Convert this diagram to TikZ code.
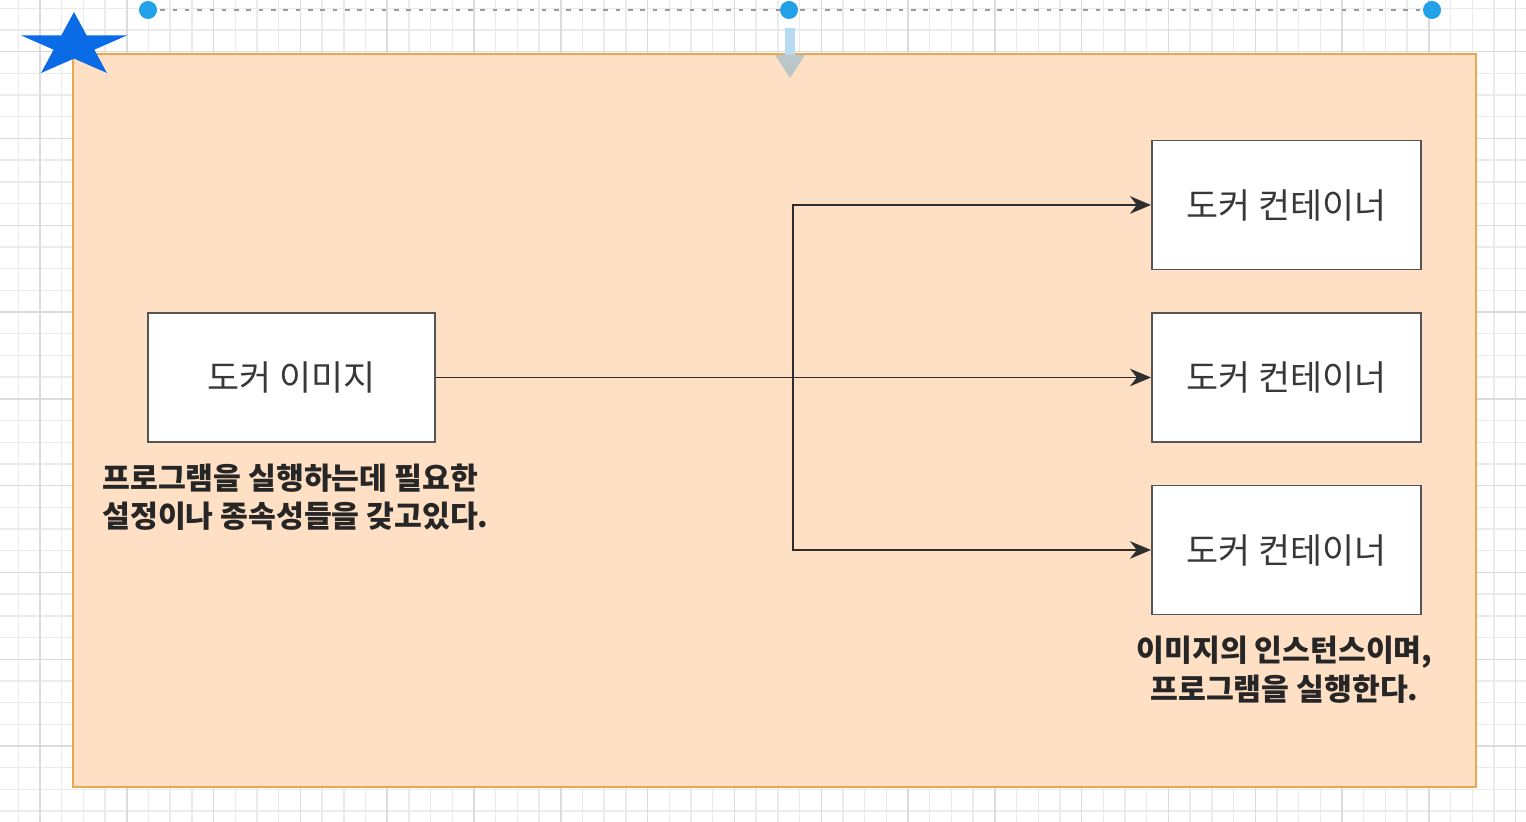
\documentclass[tikz,border=0pt]{standalone}
\usepackage{fontspec}
\setmainfont{Noto Sans CJK KR}
\usepackage{tikz}
\usetikzlibrary{arrows.meta,positioning}
\definecolor{panelfill}{HTML}{FFE0C4}
\definecolor{panelline}{HTML}{E9A84E}
\definecolor{boxline}{HTML}{555555}
\definecolor{boxtext}{HTML}{383838}
\definecolor{notetext}{HTML}{262626}
\definecolor{linkcol}{HTML}{2E2E2E}
\definecolor{starblue}{HTML}{0A6BE6}
\definecolor{handleblue}{HTML}{22A0E8}
\definecolor{guideblue}{HTML}{B6DBF3}
\definecolor{guidegray}{HTML}{BAC6C8}

\begin{document}
\begin{tikzpicture}[x=0.01cm, y=-0.01cm,
  gridline/.style = {draw=black!8, line width=0.4pt},
  gridmajor/.style = {draw=black!14, line width=0.4pt},
  box/.style = {draw=boxline, fill=white, line width=0.5pt, text=boxtext,
    minimum height=1.29cm, font=\fontsize{9.9}{12}\selectfont},
  note/.style = {text=notetext, inner sep=0pt, font=\bfseries\fontsize{8.6}{11}\selectfont},
  link/.style = {draw=linkcol, line width=0.55pt, -{Stealth[length=6pt,width=5pt]}}]
\useasboundingbox (0,0) rectangle (1526,822);
\fill[white] (0,0) rectangle (1526,822);
% grid of the canvas
\foreach \i in {0,...,70} \draw[gridline] ({18.3+21.7*\i},0) -- ++(0,822);
\foreach \i in {0,...,38} \draw[gridline] (0,{8.3+21.7*\i}) -- ++(1526,0);
\foreach \i in {1,5,...,69} \draw[gridmajor] ({18.3+21.7*\i},0) -- ++(0,822);
\foreach \i in {2,6,...,38} \draw[gridmajor] (0,{8.3+21.7*\i}) -- ++(1526,0);
% container
\draw[panelline, fill=panelfill, line width=0.7pt] (73,54) rectangle (1476,787);
% selection handles
\draw[black!40, dash pattern=on 1.3pt off 2.2pt, line width=0.5pt] (148,10) -- (1432,10);
\foreach \hx in {148,789,1432} \fill[handleblue] (\hx,10) circle (0.09cm);
\fill[guideblue] (785,28) rectangle (795,55);
\fill[guidegray] (775,55) -- (805,55) -- (790,78) -- cycle;
% star
\fill[starblue, shift={(74,45.7)}, yscale=-0.602]
  (90:56) -- (126:21.4) -- (162:56) -- (198:21.4) -- (234:56) -- (270:21.4)
  -- (306:56) -- (342:21.4) -- (18:56) -- (54:21.4) -- cycle;
% boxes
\node[box, minimum width=2.87cm] (img) at (291.5,377.5) {도커 이미지};
\node[box, minimum width=2.69cm] (ctr1) at (1286.5,205) {도커 컨테이너};
\node[box, minimum width=2.69cm] (ctr2) at (1286.5,377.5) {도커 컨테이너};
\node[box, minimum width=2.69cm] (ctr3) at (1286.5,550) {도커 컨테이너};
% notes
\node[note, align=left, below=0.2cm of img, xshift=0.04cm] (imgnote)
  {프로그램을 실행하는데 필요한\\설정이나 종속성들을 갖고있다.};
\node[note, align=center, below=0.2cm of ctr3, xshift=-0.02cm] (ctrnote)
  {이미지의 인스턴스이며,\\프로그램을 실행한다.};
% links
\coordinate (fork) at (793,377.5);
\draw[link] (img) -- (ctr2);
\draw[link] (fork) |- (ctr1);
\draw[link] (fork) |- (ctr3);
\end{tikzpicture}
\end{document}
